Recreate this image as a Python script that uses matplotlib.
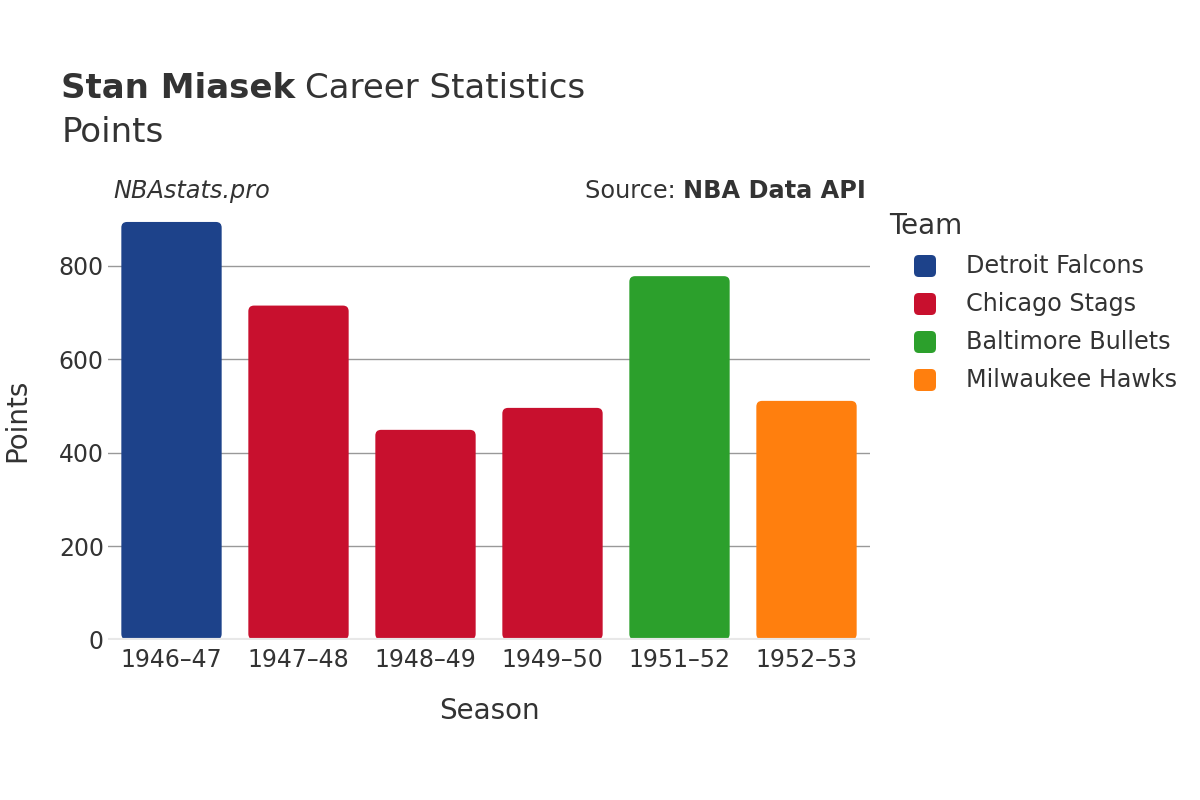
import numpy as np
import matplotlib.pyplot as plt
from matplotlib.patches import FancyBboxPatch

seasons = ["1946–47", "1947–48", "1948–49", "1949–50", "1951–52", "1952–53"]
points = [894, 715, 449, 496, 778, 511]
teams = ["Detroit Falcons", "Chicago Stags", "Chicago Stags", "Chicago Stags",
         "Baltimore Bullets", "Milwaukee Hawks"]
legend_teams = ["Detroit Falcons", "Chicago Stags", "Baltimore Bullets", "Milwaukee Hawks"]
team_colors = {"Detroit Falcons": "#1d428a", "Chicago Stags": "#c8102e",
               "Baltimore Bullets": "#2ca02c", "Milwaukee Hawks": "#ff7f0e"}

txt = "#333333"
plt.rcParams['font.family'] = ['DejaVu Sans']

fig = plt.figure(figsize=(12, 8), dpi=100)
ax = fig.add_axes([0.09, 0.2005, 0.635, 0.5495])

x = np.arange(len(seasons))
bars = ax.bar(x, points, width=0.79, color=[team_colors[t] for t in teams], zorder=3)
# swap rectangles for rounded ones
for b in bars:
    bx, by = b.get_xy()
    p = FancyBboxPatch((bx, by), b.get_width(), b.get_height(),
                       boxstyle="round,pad=0,rounding_size=0.045",
                       mutation_aspect=272, facecolor=b.get_facecolor(),
                       edgecolor="none", zorder=3)
    b.remove()
    ax.add_patch(p)

ax.set_xlim(-0.5, 5.5)
ax.set_ylim(0, 941)
ax.set_yticks([0, 200, 400, 600, 800])
ax.set_xticks(x)
ax.set_xticklabels(seasons)
ax.grid(axis='y', color='#999999', linewidth=1, zorder=0)
ax.axhline(0, color='#e8e8e8', linewidth=3, zorder=4)
for s in ax.spines.values():
    s.set_visible(False)
ax.tick_params(axis='both', length=0, labelsize=17, colors=txt)
ax.tick_params(axis='x', pad=6)
ax.tick_params(axis='y', pad=3)

ax.set_xlabel("Season", fontsize=20, color=txt)
ax.xaxis.set_label_coords(489 / 1200, 1 - 711 / 800, transform=fig.transFigure)
ax.xaxis.label.set_va('center')
ax.set_ylabel("Points", fontsize=20, color=txt)
ax.yaxis.set_label_coords(17 / 1200, 1 - 420 / 800, transform=fig.transFigure)
ax.yaxis.label.set_va('center')

fig.text(0.051, 0.889, "Stan Miasek", fontsize=24.5, fontweight='bold', color=txt, va='center')
fig.text(305 / 1200, 0.889, "Career Statistics", fontsize=24.5, color=txt, va='center')
fig.text(0.051, 0.835, "Points", fontsize=24.5, color=txt, va='center')

fig.text(113 / 1200, 0.761, "NBAstats.pro", fontsize=17.3, style='italic', color=txt, va='center')
src = fig.text(866 / 1200, 0.761, "NBA Data API", fontsize=17.3, fontweight='bold',
               color=txt, va='center', ha='right')
fig.canvas.draw()
bb = src.get_window_extent()
fig.text(bb.x0 / 1200, 0.761, "Source: ", fontsize=17.3, color=txt, va='center', ha='right')

# legend
fig.text(889 / 1200, 1 - 226 / 800, "Team", fontsize=20, color=txt, va='center')
for i, t in enumerate(legend_teams):
    yy = 1 - (266 + 38 * i) / 800
    sw = FancyBboxPatch((914 / 1200, yy - 11 / 800), 22 / 1200, 22 / 800,
                        boxstyle="round,pad=0,rounding_size=0.004",
                        mutation_aspect=1.5, transform=fig.transFigure,
                        facecolor=team_colors[t], edgecolor='none')
    fig.patches.append(sw)
    fig.text(966 / 1200, yy, t, fontsize=17.2, color=txt, va='center')

fig.savefig("out.png")
